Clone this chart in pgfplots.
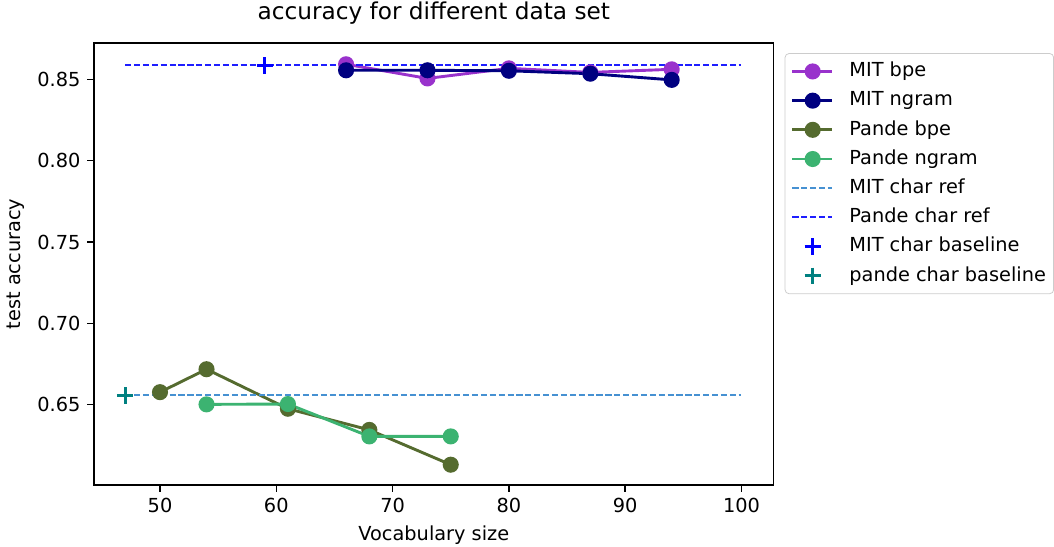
\documentclass[border=0pt]{standalone}
\usepackage{fontspec}
\setmainfont{DejaVu Sans}
\usepackage{pgfplots}
\pgfplotsset{compat=1.18}

\definecolor{mitbpe}{HTML}{9932CC}
\definecolor{mitngram}{HTML}{000080}
\definecolor{pandebpe}{HTML}{556B2F}
\definecolor{pandengram}{HTML}{3CB371}
\definecolor{mitref}{RGB}{70,145,210}
\definecolor{panderef}{RGB}{30,30,255}
\definecolor{mitbase}{HTML}{0000FF}
\definecolor{pandebase}{HTML}{008080}

\begin{document}
\begin{tikzpicture}
\begin{axis}[
    scale only axis,
    width=351.6pt,
    height=228.5pt,
    xmin=44.32, xmax=102.77,
    ymin=0.6007, ymax=0.8723,
    xtick={50,60,70,80,90,100},
    ytick={0.65,0.70,0.75,0.80,0.85},
    yticklabel style={/pgf/number format/.cd, fixed, fixed zerofill, precision=2},
    /pgf/number format/assume math mode=true,
    tick align=outside,
    tick pos=left,
    major tick length=3.5pt,
    tick style={black, line width=0.8pt},
    axis line style={line width=0.8pt},
    ticklabel style={font=\fontsize{10}{12}\selectfont},
    xlabel={Vocabulary size},
    ylabel={test accuracy},
    label style={font=\fontsize{10}{12}\selectfont},
    xlabel style={inner ysep=1pt, yshift=-2.3pt},
    title={accuracy for different data set},
    title style={font=\fontsize{12}{14}\selectfont, inner ysep=1pt, yshift=2.5pt},
    legend style={
        at={(1,1)}, anchor=north west, xshift=5.7pt, yshift=-5.2pt,
        draw=black!20, rounded corners=2pt, fill=white,
        font=\fontsize{10}{12}\selectfont,
        row sep=2.6pt,
        inner xsep=3pt, inner ysep=3pt,
        nodes={inner sep=1pt, text height=8pt, text depth=2.5pt},
        /tikz/every odd column/.append style={column sep=7pt},
    },
    legend cell align=left,
    legend image code/.code={
        \draw[mark repeat=2, mark phase=2] plot coordinates {(0cm,0cm)(0.37cm,0cm)(0.73cm,0cm)};
    },
]
\addplot[mitbpe, line width=1.5pt, mark=*, mark size=3.4pt] coordinates {
    (66,0.8593)(73,0.8506)(80,0.8568)(87,0.8543)(94,0.8562)};
\addlegendentry{MIT bpe}
\addplot[mitngram, line width=1.5pt, mark=*, mark size=3.4pt] coordinates {
    (66,0.8556)(73,0.8556)(80,0.8553)(87,0.8535)(94,0.8497)};
\addlegendentry{MIT ngram}
\addplot[pandebpe, line width=1.5pt, mark=*, mark size=3.4pt] coordinates {
    (50,0.6577)(54,0.6718)(61,0.6475)(68,0.6345)(75,0.6131)};
\addlegendentry{Pande bpe}
\addplot[pandengram, line width=1.5pt, mark=*, mark size=3.4pt] coordinates {
    (54,0.6502)(61,0.6504)(68,0.6305)(75,0.6305)};
\addlegendentry{Pande ngram}
\addplot[mitref, line width=1pt, dash pattern=on 3.2pt off 1.4pt] coordinates {
    (47,0.6557)(100,0.6557)};
\addlegendentry{MIT char ref}
\addplot[panderef, line width=1pt, dash pattern=on 3.2pt off 1.4pt] coordinates {
    (47,0.8586)(100,0.8586)};
\addlegendentry{Pande char ref}
\addplot[mitbase, only marks, mark=+, mark size=4.2pt, line width=1.5pt] coordinates {
    (59,0.8586)};
\addlegendentry{MIT char baseline}
\addplot[pandebase, only marks, mark=+, mark size=4.2pt, line width=1.5pt] coordinates {
    (47,0.6557)};
\addlegendentry{pande char baseline}
\end{axis}
\end{tikzpicture}
\end{document}
